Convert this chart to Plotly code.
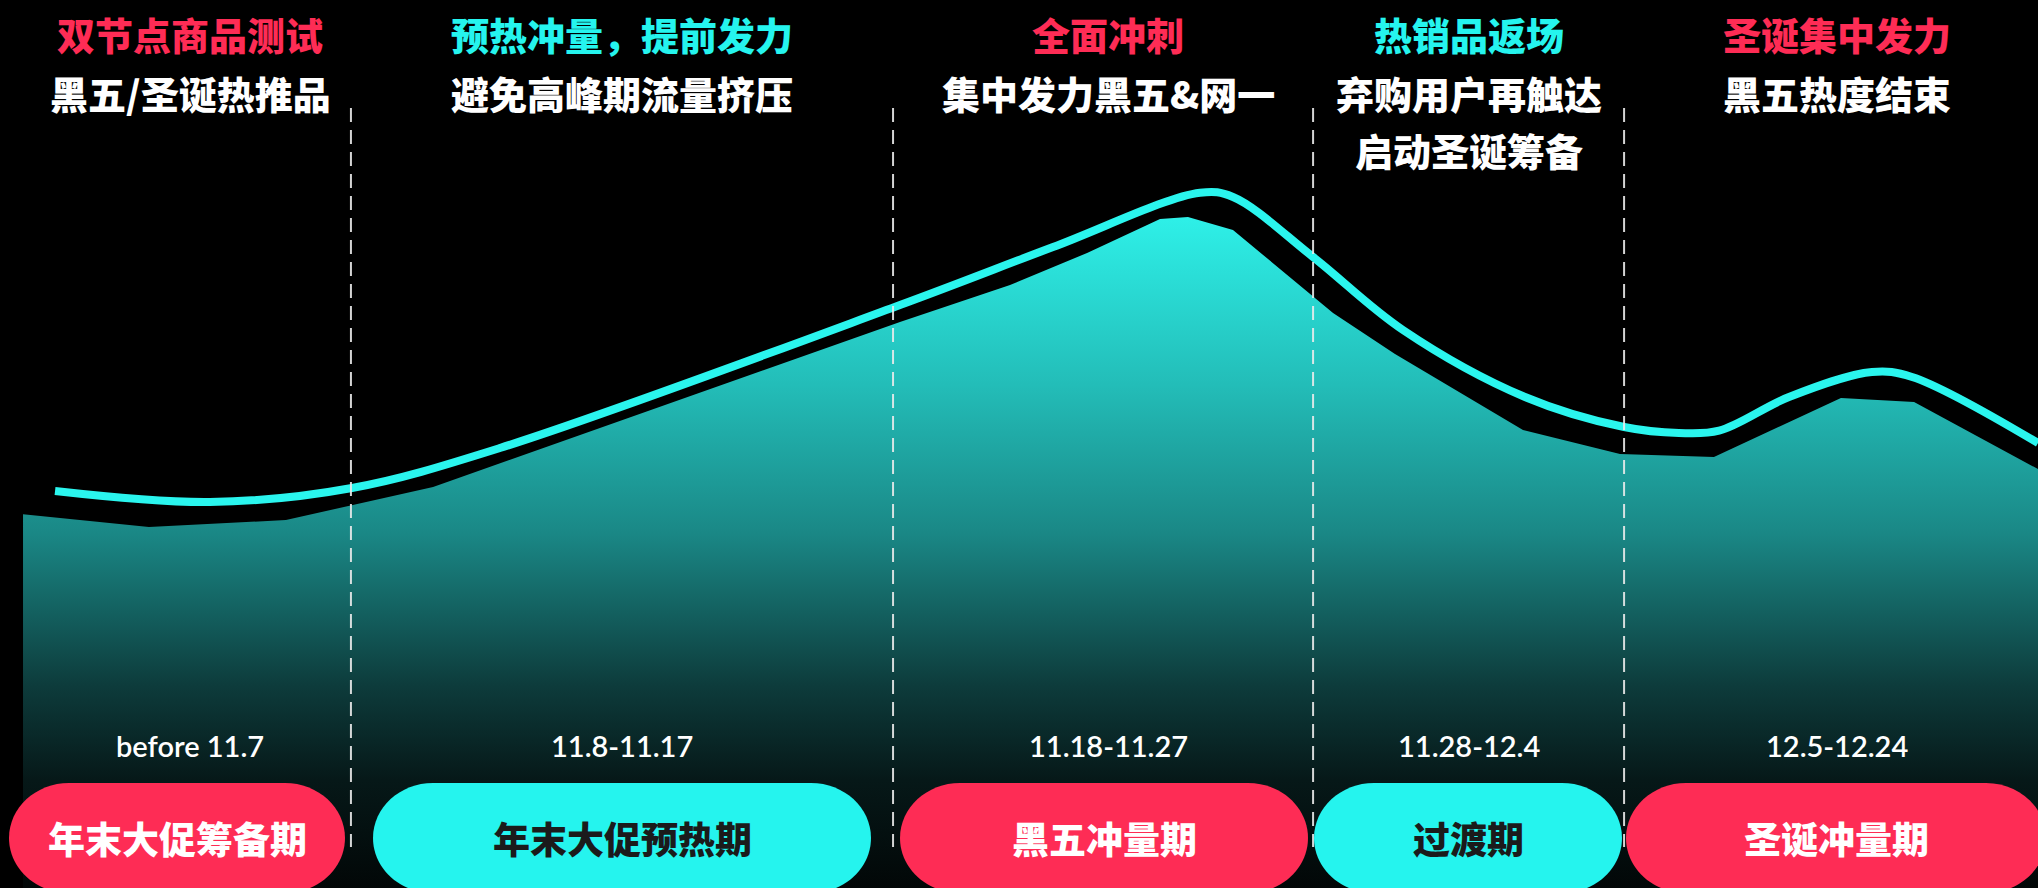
import plotly.graph_objects as go

# ---------------- data ----------------
# traffic area (x: timeline position 0-100, y: traffic index 0-100)
area_x = [1.13, 7.31, 14.03, 21.25, 44.16, 49.56, 53.34, 56.92, 58.29, 60.50,
          65.41, 68.45, 74.73, 79.49, 84.10, 90.33, 93.92, 100.0]
area_y = [42.1, 40.65, 41.44, 45.16, 63.74, 67.91, 71.51, 75.34, 75.56, 74.10,
          64.75, 60.14, 51.58, 48.87, 48.54, 55.18, 54.73, 47.18]

# smoothed trend line
trend_x = [2.70, 10.30, 17.27, 24.53, 44.16, 51.67, 58.88, 60.50, 64.43, 68.84,
           74.83, 79.69, 82.38, 84.35, 87.78, 91.85, 93.82, 100.0]
trend_y = [44.71, 43.47, 45.05, 49.55, 65.65, 72.18, 78.30, 77.82, 71.06, 62.84,
           55.29, 51.91, 51.24, 51.50, 55.29, 58.11, 57.55, 50.11]

# phase boundaries on the timeline
phase_bounds = [17.22, 43.82, 64.43, 79.69]

phase_names = ["年末大促筹备期", "年末大促预热期", "黑五冲量期", "过渡期", "圣诞冲量期"]
phase_dates = ["before 11.7", "11.8-11.17", "11.18-11.27", "11.28-12.4", "12.5-12.24"]
phase_titles = ["双节点商品测试", "预热冲量，提前发力", "全面冲刺", "热销品返场", "圣诞集中发力"]
phase_notes = [["黑五/圣诞热推品"], ["避免高峰期流量挤压"], ["集中发力黑五&网一"],
               ["弃购用户再触达", "启动圣诞筹备"], ["黑五热度结束"]]

# ---------------- layout / style ----------------
W, H = 2038, 888
RED = "#FE2C55"
CYAN = "#25F4EE"
phase_colors = [RED, CYAN, RED, CYAN, RED]
pill_text_colors = ["#FFFFFF", "#1B1B1B", "#FFFFFF", "#1B1B1B", "#FFFFFF"]
label_centers_px = [190, 622, 1108, 1469, 1837]
pill_extents_px = [(9, 345), (373, 871), (900, 1308), (1314, 1622), (1626, 2046)]
CJK = "Noto Sans CJK SC"


def px_x(px):
    return px / W


def px_y(py):
    return 1 - py / H


def pill_path(x0, x1, yt, yb, rx=60):
    ry = (yb - yt) / 2
    cy = (yt + yb) / 2
    k = 0.5523
    P = lambda x, y: f"{px_x(x):.5f},{px_y(y):.5f}"
    return (
        f"M{P(x0 + rx, yt)} L{P(x1 - rx, yt)} "
        f"C{P(x1 - rx + k * rx, yt)} {P(x1, cy - k * ry)} {P(x1, cy)} "
        f"C{P(x1, cy + k * ry)} {P(x1 - rx + k * rx, yb)} {P(x1 - rx, yb)} "
        f"L{P(x0 + rx, yb)} "
        f"C{P(x0 + rx - k * rx, yb)} {P(x0, cy + k * ry)} {P(x0, cy)} "
        f"C{P(x0, cy - k * ry)} {P(x0 + rx - k * rx, yt)} {P(x0 + rx, yt)} Z"
    )


fig = go.Figure()

fig.add_trace(go.Scatter(
    x=area_x, y=area_y, mode="lines", fill="tozeroy",
    line=dict(width=0, color="rgba(0,0,0,0)"),
    fillgradient=dict(
        type="vertical", start=0, stop=max(area_y),
        colorscale=[
            [0.0, "#020707"],
            [0.16, "#061818"],
            [0.30, "#0D3B3B"],
            [0.53, "#1A8886"],
            [0.75, "#23BDB8"],
            [1.0, "#2EF0E8"],
        ],
    ),
    hoverinfo="skip", showlegend=False,
))

fig.add_trace(go.Scatter(
    x=trend_x, y=trend_y, mode="lines",
    line=dict(color="#2AF5EE", width=8, shape="spline", smoothing=1.0),
    hoverinfo="skip", showlegend=False,
))

shapes = []
for b in phase_bounds:
    shapes.append(dict(
        type="line", xref="x", yref="paper", x0=b, x1=b,
        y0=px_y(108), y1=px_y(847),
        line=dict(color="rgba(235,235,235,0.9)", width=2, dash="14px,8px"),
        layer="above",
    ))
for (x0, x1), c in zip(pill_extents_px, phase_colors):
    shapes.append(dict(
        type="path", xref="paper", yref="paper",
        path=pill_path(x0, x1, 783, 893),
        fillcolor=c, line=dict(width=0), layer="above",
    ))

annotations = []
for i in range(5):
    cx = px_x(label_centers_px[i])
    annotations.append(dict(
        x=cx, y=px_y(34), xref="paper", yref="paper", text=phase_titles[i],
        showarrow=False, xanchor="center", yanchor="middle",
        font=dict(family=CJK, size=38, color=phase_colors[i], weight=900),
    ))
    for j, note in enumerate(phase_notes[i]):
        annotations.append(dict(
            x=cx, y=px_y(92 + 58 * j), xref="paper", yref="paper", text=note,
            showarrow=False, xanchor="center", yanchor="middle",
            font=dict(family=CJK, size=38, color="#FFFFFF", weight=900),
        ))
    annotations.append(dict(
        x=cx, y=px_y(745), xref="paper", yref="paper", text=phase_dates[i],
        showarrow=False, xanchor="center", yanchor="middle",
        font=dict(family="Lato", size=29, color="#FFFFFF", weight=600),
    ))
    px0, px1 = pill_extents_px[i]
    annotations.append(dict(
        x=px_x((px0 + px1) / 2), y=px_y(838), xref="paper", yref="paper",
        text=phase_names[i], showarrow=False, xanchor="center", yanchor="middle",
        font=dict(family=CJK, size=37, color=pill_text_colors[i], weight=900),
    ))

fig.update_layout(
    width=W, height=H,
    margin=dict(l=0, r=0, t=0, b=0),
    paper_bgcolor="#000000", plot_bgcolor="#000000",
    xaxis=dict(range=[0, 100], visible=False, fixedrange=True),
    yaxis=dict(range=[0, 100], visible=False, fixedrange=True),
    shapes=shapes, annotations=annotations,
    showlegend=False,
)

fig.write_html(
    "out.html",
    config=dict(displayModeBar=False),
    post_script="document.body.style.margin='0';document.body.style.background='#000';",
)
